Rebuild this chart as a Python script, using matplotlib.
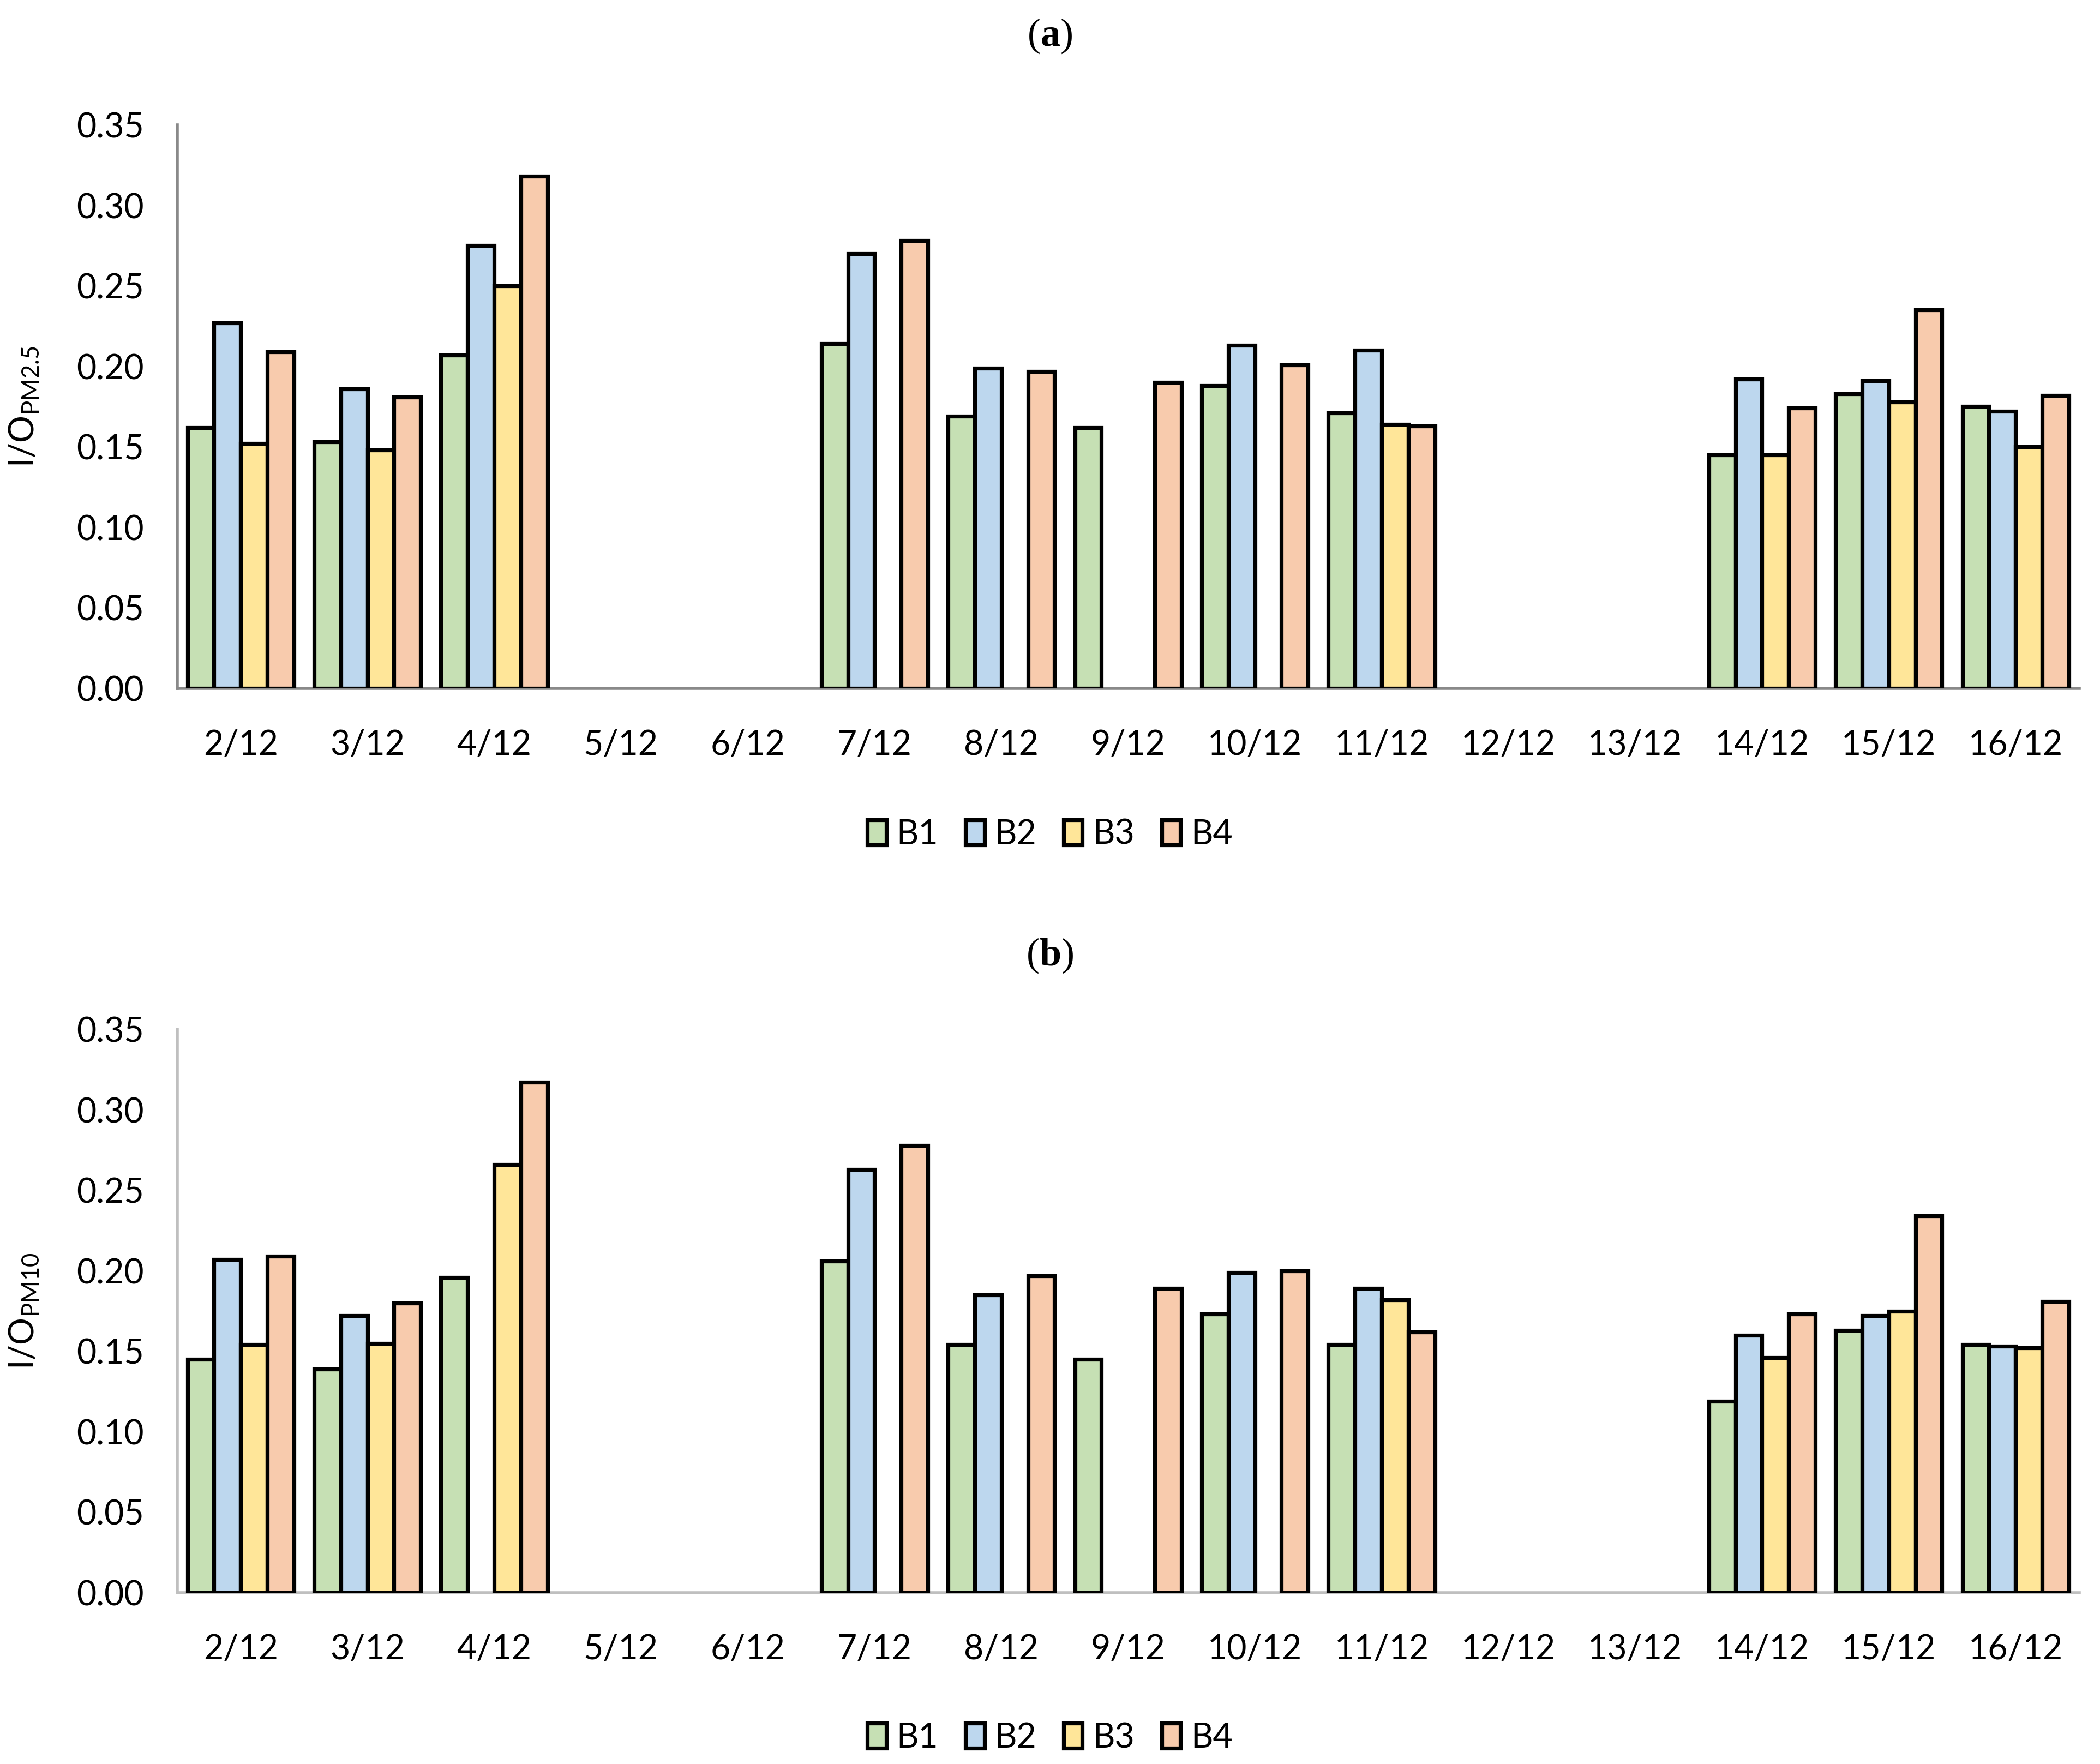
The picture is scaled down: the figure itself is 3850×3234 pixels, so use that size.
import numpy as np
import matplotlib
matplotlib.use('Agg')
import matplotlib.pyplot as plt

nan = np.nan

dates = ['2/12', '3/12', '4/12', '5/12', '6/12', '7/12', '8/12', '9/12',
         '10/12', '11/12', '12/12', '13/12', '14/12', '15/12', '16/12']
series = ['B1', 'B2', 'B3', 'B4']

# panel (a) I/O PM2.5
pm25_b1 = [0.162, 0.153, 0.207, nan, nan, 0.214, 0.169, 0.162, 0.188, 0.171, nan, nan, 0.145, 0.183, 0.175]
pm25_b2 = [0.227, 0.186, 0.275, nan, nan, 0.270, 0.199, nan, 0.213, 0.210, nan, nan, 0.192, 0.191, 0.172]
pm25_b3 = [0.152, 0.148, 0.250, nan, nan, nan, nan, nan, nan, 0.164, nan, nan, 0.145, 0.178, 0.150]
pm25_b4 = [0.209, 0.181, 0.318, nan, nan, 0.278, 0.197, 0.190, 0.201, 0.163, nan, nan, 0.174, 0.235, 0.182]

# panel (b) I/O PM10
pm10_b1 = [0.145, 0.139, 0.196, nan, nan, 0.206, 0.154, 0.145, 0.173, 0.154, nan, nan, 0.119, 0.163, 0.154]
pm10_b2 = [0.207, 0.172, nan, nan, nan, 0.263, 0.185, nan, 0.199, 0.189, nan, nan, 0.160, 0.172, 0.153]
pm10_b3 = [0.154, 0.155, 0.266, nan, nan, nan, nan, nan, nan, 0.182, nan, nan, 0.146, 0.175, 0.152]
pm10_b4 = [0.209, 0.180, 0.317, nan, nan, 0.278, 0.197, 0.189, 0.200, 0.162, nan, nan, 0.173, 0.234, 0.181]

colors = ['#C6E0B4', '#BDD7EE', '#FFE699', '#F8CBAD']

plt.rcParams['font.family'] = ['Lato', 'DejaVu Sans']
plt.rcParams['mathtext.fontset'] = 'custom'
plt.rcParams['mathtext.rm'] = 'Liberation Serif'
plt.rcParams['mathtext.bf'] = 'Liberation Serif:bold'
plt.rcParams['mathtext.sf'] = 'Lato'

fig = plt.figure(figsize=(19.25, 16.17), dpi=200)

panels = [
    ([pm25_b1, pm25_b2, pm25_b3, pm25_b4], r'I/O$_{\mathsf{PM2.5}}$', 'a',
     [0.0844, 0.6098, 0.9056, 0.3194], 0.9796, 0.527, '#898989'),
    ([pm10_b1, pm10_b2, pm10_b3, pm10_b4], r'I/O$_{\mathsf{PM10}}$', 'b',
     [0.0844, 0.0971, 0.9056, 0.3194], 0.4583, 0.0148, '#BFBFBF'),
]

x = np.arange(len(dates))
w = 0.21
for data, ylab, tag, rect, ty, ly, spcol in panels:
    ax = fig.add_axes(rect)
    bars = []
    for i, vals in enumerate(data):
        b = ax.bar(x + (i - 1.5) * w, vals, w, color=colors[i],
                   edgecolor='black', linewidth=2.6, label=series[i], zorder=3)
        bars.append(b)
    ax.set_xlim(-0.5, len(dates) - 0.5)
    ax.set_ylim(0, 0.35)
    ax.set_yticks(np.arange(0, 0.351, 0.05))
    ax.set_yticklabels(['%.2f' % v for v in np.arange(0, 0.351, 0.05)])
    ax.set_xticks(x)
    ax.set_xticklabels(dates)
    ax.tick_params(axis='both', length=0, labelsize=22.5)
    ax.tick_params(axis='x', pad=27)
    ax.tick_params(axis='y', pad=22)
    for s in ['top', 'right']:
        ax.spines[s].set_visible(False)
    for s in ['left', 'bottom']:
        ax.spines[s].set_color(spcol)
        ax.spines[s].set_linewidth(2.0)
    ax.set_ylabel(ylab, fontsize=22.5)
    ax.yaxis.set_label_coords(-0.072, 0.5)

    fig.text(0.5, ty, '(' + r'$\mathbf{%s}$' % tag + ')', ha='center', va='center',
             fontsize=26, family='Liberation Serif')
    fig.legend(handles=bars, labels=series, loc='center', bbox_to_anchor=(0.5, ly),
               ncol=4, frameon=False, fontsize=22.5, handlelength=0.55, handleheight=0.75,
               handletextpad=0.3, columnspacing=0.8)

fig.savefig('out.png', dpi=200)
